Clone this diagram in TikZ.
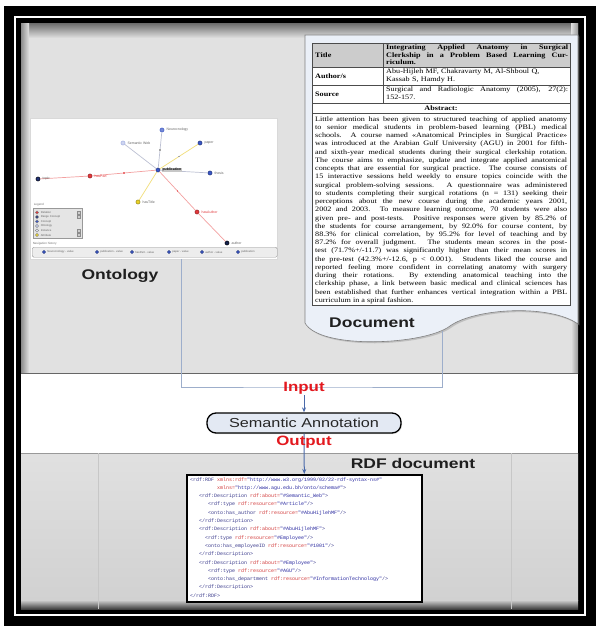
\documentclass[tikz,border=0pt]{standalone}
\usepackage{fontspec}
\setmainfont{Liberation Serif}
\newfontfamily\docserif[FakeStretch=1.2]{Liberation Serif}
\newfontfamily\labsans[FakeStretch=1.25]{Liberation Sans}
\newfontfamily\tinysans{Liberation Sans}
\newfontfamily\codemono{Liberation Mono}
\usetikzlibrary{arrows.meta,shadows}
\definecolor{topgray}{HTML}{E1E1E1}
\definecolor{docbg}{HTML}{EBF0F8}
\definecolor{connc}{HTML}{9DAECB}
\definecolor{arrc}{HTML}{4A6AAA}
\definecolor{labred}{HTML}{E3191F}
\definecolor{sabg}{HTML}{E3E9F3}
\definecolor{codetag}{HTML}{3A3A8C}
\definecolor{codeatt}{HTML}{D23A3A}
\definecolor{codeval}{HTML}{2A2AA0}
\definecolor{gblue}{HTML}{3A56C4}
\definecolor{gred}{HTML}{E2393C}
\definecolor{gyel}{HTML}{E9D229}
\definecolor{gedgec}{HTML}{BDC1D3}
\definecolor{redge}{HTML}{F3A0A0}
\definecolor{yedge}{HTML}{F2DE7A}
\newcommand\ctag[1]{\textcolor{codetag}{#1}}
\newcommand\catt[1]{\textcolor{codeatt}{#1}}
\newcommand\cval[1]{\textcolor{codeval}{#1}}
\begin{document}
\begin{tikzpicture}[x=1pt,y=-1pt,
  conn/.style={draw=connc, line width=0.9pt},
  arr/.style={draw=arrc, line width=1pt, -{Stealth[length=5pt,width=4pt]}},
  lab/.style={font=\labsans\bfseries\fontsize{13.5}{15}\selectfont, text=labred, inner sep=1pt},
  bigl/.style={font=\labsans\bfseries\fontsize{14}{16}\selectfont, text=black!88, inner sep=0},
  sabox/.style={draw=black, line width=1.3pt, fill=sabg, rounded corners=9pt, minimum width=194pt, minimum height=20pt, font=\labsans\fontsize{13}{15}\selectfont, text=black!85},
  codeln/.style={anchor=base west, inner sep=0, font=\codemono\fontsize{5}{6}\selectfont},
  onode/.style={circle, inner sep=0, minimum size=4.2pt, line width=0.4pt},
  olab/.style={inner sep=0.6pt, font=\tinysans\fontsize{3.5}{4}\selectfont, anchor=west},
  gedge/.style={draw=gedgec, line width=0.7pt},
  redg/.style={draw=redge, line width=0.7pt},
  yedg/.style={draw=yedge, line width=0.7pt},
  mk/.style={rectangle, fill=gray!70, inner sep=0, minimum size=1.6pt},
  tcell/.style={anchor=base west, inner sep=0, font=\docserif\fontsize{6.8}{7.6}\selectfont},
]
\useasboundingbox (0,0) rectangle (598,626);
\fill[white] (0,0) rectangle (598,626);
% frame
\fill[black] (4,6) rectangle (596,626);
\draw[white, line width=1.1pt] (15,17) rectangle (585,615);
% top panel
\fill[topgray] (21,24) rectangle (578,373);
\shade[top color=black!55, bottom color=topgray] (21,24) rectangle (578,38);
\shade[left color=black!45, right color=topgray] (21,24) rectangle (29,373);
\shade[left color=topgray, right color=black!40] (571,24) rectangle (578,373);
% white band
\fill[white] (21,373) rectangle (578,453);
\draw[black!60, line width=0.8pt] (21,373) -- (578,373);
% bottom band
\shade[top color=black!12, bottom color=black!18] (21,453) rectangle (578,600);
\shade[top color=black!18, bottom color=black!75] (21,600) rectangle (578,609);
\draw[black!40, line width=0.6pt] (21,453) -- (578,453);
\draw[black!22, line width=0.5pt] (98,453) -- (98,609) (511,453) -- (511,609);

% ===== ontology panel =====
\node[fill=white, draw=black!15, minimum width=247pt, minimum height=141pt, anchor=north west, inner sep=0] (onto) at (30,118) {};
% graph nodes
\node[onode, fill=gblue, draw=gblue!60!black] (gpub) at (158,170) {};
\node[onode, fill=gblue!70, draw=gblue] (gneu) at (162,130) {};
\node[onode, fill=gblue!25, draw=gblue!50] (gsem) at (123,143) {};
\node[onode, fill=gblue, draw=gblue!60!black] (gpap) at (200,143) {};
\node[onode, fill=gblue, draw=gblue!60!black] (gthe) at (210,173) {};
\node[onode, fill=gred, draw=gred!60!black] (gpart) at (90,176) {};
\node[onode, fill=gblue!60!black, draw=black] (gtop) at (38,179) {};
\node[onode, fill=gyel, draw=gyel!60!black] (gtit) at (138,202) {};
\node[onode, fill=gred, draw=gred!60!black] (gaut) at (197,212) {};
\node[onode, fill=gblue!40!black, draw=black] (gauthor) at (227,243) {};
% edges
\draw[gedge] (gpub) -- node[mk]{} (gneu);
\draw[gedge] (gpub) -- (gsem);
\draw[yedg] (gpub) -- node[mk]{} (gpap);
\draw[gedge] (gpub) -- (gthe);
\draw[redg] (gpub) -- node[mk, fill=gred!70]{} (gpart);
\draw[redg] (gpart) -- (gtop);
\draw[yedg] (gpub) -- (gtit);
\draw[redg] (gpub) -- node[mk, fill=gred!70]{} (gaut);
\draw[redg] (gaut) -- (gauthor);
% graph labels
\node[olab, fill=black!22, font=\tinysans\bfseries\fontsize{3.5}{4}\selectfont] (lpub) at ([xshift=1.5pt]gpub.east) {publication};
\node[olab, text=black!60] (lneu) at ([xshift=1.5pt]gneu.east) {Neurocnology};
\node[olab, text=black!60] (lsem) at ([xshift=1.5pt]gsem.east) {Semantic Web};
\node[olab, text=black!60] (lpap) at ([xshift=1.5pt]gpap.east) {paper};
\node[olab, text=black!60] (lthe) at ([xshift=1.5pt]gthe.east) {thesis};
\node[olab, text=gred] (lpart) at ([xshift=1.5pt]gpart.east) {hasPart};
\node[olab, text=black!60] (ltop) at ([xshift=1.5pt]gtop.east) {topic};
\node[olab, text=black!60] (ltit) at ([xshift=1.5pt]gtit.east) {hasTitle};
\node[olab, text=gred] (laut) at ([xshift=1.5pt]gaut.east) {hasAuthor};
\node[olab, text=black!60] (lauthor) at ([xshift=1.5pt]gauthor.east) {author};
% legend
\node[olab, text=black!55, font=\tinysans\fontsize{3}{3.5}\selectfont] (legt) at (33,205) {Legend};
\node[draw=black!40, fill=black!10, minimum width=49pt, minimum height=30pt, anchor=north west, inner sep=0] (leg) at (33,208) {};
\foreach \yy/\cc/\lbl [count=\i] in {212.5/gred/Relation, 217/gblue!60!black/Range Concept, 221.5/gblue/Concept, 226/gblue!30/Ontology, 230.5/gblue!15/Instance, 235/gyel/Attribute}{
  \node[onode, minimum size=3.4pt, fill=\cc, draw=black!50] (li\i) at (37,\yy) {};
  \node[olab, text=black!60, font=\tinysans\fontsize{2.8}{3.2}\selectfont] (lt\i) at (40,\yy) {\lbl};
}
\foreach \yy [count=\i] in {211,215,229,233}{
  \node[draw=black!45, fill=black!20, minimum size=3.4pt, inner sep=0, anchor=north west] (sb\i) at (77,\yy) {};
}
% navigation history
\node[olab, text=black!55, font=\tinysans\fontsize{3}{3.5}\selectfont] (navt) at (32,244) {Navigation history};
\node[draw=black!40, fill=black!7, rounded corners=1.5pt, minimum width=245pt, minimum height=10pt, anchor=north west, inner sep=0] (nav) at (32,247) {};
\foreach \xx/\lbl [count=\i] in {44/Neurocnology - value, 97/publication - value, 132/hasPart - value, 169/paper - value, 202/author - value, 238/publication}{
  \node[onode, minimum size=3.4pt, fill=gblue, draw=gblue!60!black] (ni\i) at (\xx,252) {};
  \node[olab, text=black!60, font=\tinysans\fontsize{2.8}{3.2}\selectfont] (nt\i) at (\xx+2.5,252) {\lbl};
}
% Ontology label
\node[bigl] (ontol) at (120,276) {Ontology};

% ===== document panel =====
\path[fill=docbg, draw=black!50, line width=0.6pt, drop shadow={shadow xshift=1.5pt, shadow yshift=-1.5pt, opacity=0.35}]
  (305,35) -- (578,35) -- (578,324) .. controls (550,304) and (475,308) .. (450,326)
  .. controls (425,345) and (320,350) .. (305,323) -- cycle;
% table
\fill[white] (312,43) rectangle (570,305);
\fill[black!20] (312,43) rectangle (570,67);
\draw[black!70, line width=0.9pt] (312,43) rectangle (570,305);
\draw[black!70, line width=0.9pt] (312,67) -- (570,67) (312,85) -- (570,85) (312,103) -- (570,103) (312,113) -- (570,113) (383,43) -- (383,103);
\node[tcell, font=\docserif\bfseries\fontsize{6.8}{7.6}\selectfont] (ttl) at (315,58) {Title};
\node[tcell, font=\docserif\bfseries\fontsize{6.8}{7.6}\selectfont] (tau) at (315,78.5) {Author/s};
\node[tcell, font=\docserif\bfseries\fontsize{6.8}{7.6}\selectfont] (tso) at (315,96.5) {Source};
\node[anchor=north west, inner sep=0, text width=182pt, align=justify, font=\docserif\bfseries\fontsize{6.8}{7.4}\selectfont] (ttv) at (386,45) {Integrating Applied Anatomy in Surgical\linebreak Clerkship in a Problem Based Learning Cur-\linebreak riculum.};
\node[anchor=north west, inner sep=0, text width=182pt, align=left, font=\docserif\fontsize{6.8}{7.6}\selectfont] (tav) at (386,69) {Abu-Hijleh MF, Chakravarty M, Al-Shboul Q,\\ Kassab S, Hamdy H.};
\node[anchor=north west, inner sep=0, text width=182pt, align=justify, font=\docserif\fontsize{6.8}{7.6}\selectfont] (tsv) at (386,87) {Surgical and Radiologic Anatomy (2005), 27(2):\linebreak 152-157.};
\node[inner sep=0, font=\docserif\bfseries\fontsize{6.8}{7.6}\selectfont] (tabh) at (441,108.5) {Abstract:};
\node[anchor=north west, inner sep=0, text width=252pt, align=justify, font=\docserif\fontsize{6.8}{8.23}\selectfont] (abs) at (315,116.3) {Little attention has been given to structured teaching of applied anatomy\linebreak
to senior medical students in problem-based learning (PBL) medical\linebreak
schools. A course named «Anatomical Principles in Surgical Practice»\linebreak
was introduced at the Arabian Gulf University (AGU) in 2001 for fifth-\linebreak
and sixth-year medical students during their surgical clerkship rotation.\linebreak
The course aims to emphasize, update and integrate applied anatomical\linebreak
concepts that are essential for surgical practice. The course consists of\linebreak
15 interactive sessions held weekly to ensure topics coincide with the\linebreak
surgical problem-solving sessions. A questionnaire was administered\linebreak
to students completing their surgical rotations (n = 131) seeking their\linebreak
perceptions about the new course during the academic years 2001,\linebreak
2002 and 2003. To measure learning outcome, 70 students were also\linebreak
given pre- and post-tests. Positive responses were given by 85.2\% of\linebreak
the students for course arrangement, by 92.0\% for course content, by\linebreak
88.3\% for clinical correlation, by 95.2\% for level of teaching and by\linebreak
87.2\% for overall judgment. The students mean scores in the post-\linebreak
test (71.7\%+/-11.7) was significantly higher than their mean scores in\linebreak
the pre-test (42.3\%+/-12.6, p < 0.001). Students liked the course and\linebreak
reported feeling more confident in correlating anatomy with surgery\linebreak
during their rotations. By extending anatomical teaching into the\linebreak
clerkship phase, a link between basic medical and clinical sciences has\linebreak
been established that further enhances vertical integration within a PBL\linebreak
curriculum in a spiral fashion.};
\node[bigl] (docl) at (372,323) {Document};

% ===== connectors =====
\coordinate (ontob) at (181,259);
\coordinate (docb) at (442,331);
\coordinate (join) at (304,387);
\draw[conn] (ontob) |- (join) -| (docb);
\node[lab] (inp) at (304,388) {Input};
\node[sabox, drop shadow={shadow xshift=1pt, shadow yshift=-1pt, opacity=0.25}] (sa) at (304,423) {Semantic Annotation};
\draw[arr] (inp.south) -- (sa.north);

% ===== RDF =====
\node[draw=black, line width=1.6pt, fill=white, minimum width=235pt, minimum height=127pt, anchor=north west, inner sep=0, drop shadow={shadow xshift=1.5pt, shadow yshift=-1.5pt, opacity=0.4}] (rdf) at (186,474) {};
\draw[arr] (sa.south) -- (rdf.north);
\node[lab] (outp) at (304,442) {Output};
\node[bigl] (rdfl) at (413,463) {RDF document};
\node[codeln] (c1) at (190,481) {\ctag{<rdf:RDF} \catt{xmlns:rdf=}\cval{"http://www.w3.org/1999/02/22-rdf-syntax-ns\#"}};
\node[codeln] (c2) at (217,489.3) {\catt{xmlns=}\cval{"http://www.agu.edu.bh/onto/schema\#"}\ctag{>}};
\node[codeln] (c3) at (199,497.6) {\ctag{<rdf:Description} \catt{rdf:about=}\cval{"\#Semantic\_Web"}\ctag{>}};
\node[codeln] (c4) at (208,505.9) {\ctag{<rdf:type} \catt{rdf:resource=}\cval{"\#Article"}\ctag{/>}};
\node[codeln] (c5) at (208,514.2) {\ctag{<onto:has\_author} \catt{rdf:resource=}\cval{"\#AbuHijlehMF"}\ctag{/>}};
\node[codeln] (c6) at (199,522.5) {\ctag{</rdf:Description>}};
\node[codeln] (c7) at (199,530.8) {\ctag{<rdf:Description} \catt{rdf:about=}\cval{"\#AbuHijlehMF"}\ctag{ >}};
\node[codeln] (c8) at (205,539.1) {\ctag{<rdf:type} \catt{rdf:resource=}\cval{"\#Employee"}\ctag{/>}};
\node[codeln] (c9) at (205,547.4) {\ctag{<onto:has\_employeeID} \catt{rdf:resource=}\cval{"\#1001"}\ctag{/>}};
\node[codeln] (c10) at (199,555.7) {\ctag{</rdf:Description>}};
\node[codeln] (c11) at (199,564) {\ctag{<rdf:Description} \catt{rdf:about=}\cval{"\#Employee"}\ctag{>}};
\node[codeln] (c12) at (208,572.3) {\ctag{<rdf:type} \catt{rdf:resource=}\cval{"\#AGU"}\ctag{/>}};
\node[codeln] (c13) at (208,580.6) {\ctag{<onto:has\_department} \catt{rdf:resource=}\cval{"\#InformationTechnology"}\ctag{/>}};
\node[codeln] (c14) at (199,588.9) {\ctag{</rdf:Description>}};
\node[codeln] (c15) at (190,597.2) {\ctag{</rdf:RDF>}};
\end{tikzpicture}
\end{document}
